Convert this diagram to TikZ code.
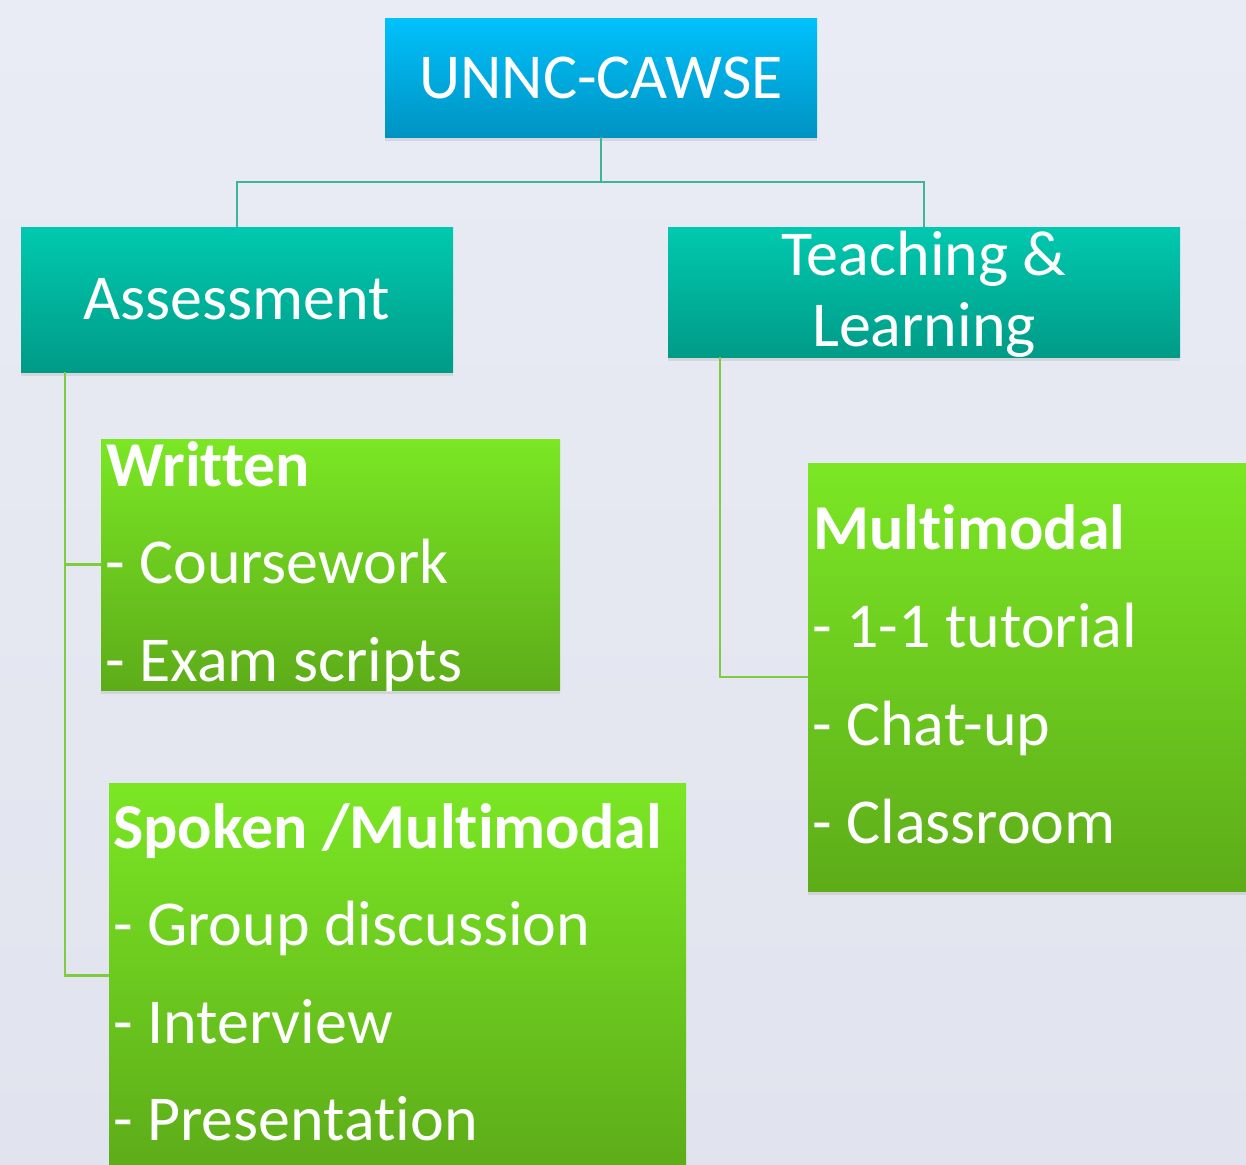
\documentclass[tikz,border=0pt]{standalone}
\usepackage{fontspec}
\setmainfont[Ligatures={NoCommon}, RawFeature={-liga;-clig}]{Carlito}
\usetikzlibrary{shadows}
\definecolor{bgtop}{HTML}{E9ECF4}
\definecolor{bgbot}{HTML}{E1E4EE}
\definecolor{bluetop}{HTML}{00C1FB}
\definecolor{bluebot}{HTML}{0093C2}
\definecolor{tealtop}{HTML}{00C9AF}
\definecolor{tealbot}{HTML}{009B87}
\definecolor{greentop}{HTML}{7BE724}
\definecolor{greenbot}{HTML}{5DAC19}
\definecolor{tline}{HTML}{3DB59C}
\definecolor{gline}{HTML}{80CC40}
\tikzset{
  boxbase/.style={rectangle, inner sep=0pt, draw=none, text=white,
    font=\fontsize{64}{71}\selectfont,
    drop shadow={shadow xshift=0pt, shadow yshift=-4pt, opacity=0.18}},
  bluebox/.style={boxbase, top color=bluetop, bottom color=bluebot},
  tealbox/.style={boxbase, top color=tealtop, bottom color=tealbot},
  greenbox/.style={boxbase, top color=greentop, bottom color=greenbot},
  wtext/.style={inner sep=0pt, text=white, font=\fontsize{64}{71}\selectfont},
  wbold/.style={wtext, font=\fontsize{64}{71}\selectfont\bfseries},
  tconn/.style={draw=tline, line width=2.4pt},
  gconn/.style={draw=gline, line width=2.2pt},
}
\begin{document}
\begin{tikzpicture}[x=1pt,y=-1pt]
\useasboundingbox (0,0) rectangle (1246,1164);
\clip (0,0) rectangle (1246,1164);
\shade[top color=bgtop, bottom color=bgbot] (0,0) rectangle (1246,1164);

% boxes
\node[bluebox, minimum width=432pt, minimum height=118pt] (root) at (601,78) {UNNC-CAWSE};
\node[tealbox, minimum width=432pt, minimum height=145pt] (assess) at (237,299.5) {Assessment};
\node[tealbox, minimum width=512pt, minimum height=130pt] (teach) at (924,292) {};
\node[greenbox, minimum width=459pt, minimum height=251pt] (written) at (330.5,564.5) {};
\node[greenbox, minimum width=577pt, minimum height=385pt] (spoken) at (397.5,975.5) {};
\node[greenbox, minimum width=444pt, minimum height=428pt] (multi) at (1030,677) {};

% connectors
\coordinate (hub) at (601,182);
\draw[tconn] (root.south) -- (hub);
\draw[tconn] (assess.north) |- (hub) -| (teach.north);
\draw[gconn] ([xshift=44pt]assess.south west) coordinate (av) |- (written.west);
\draw[gconn] (av) |- (spoken.west);
\draw[gconn] ([xshift=52pt]teach.south west) |- (multi.west);

% teaching text
\node[wtext, anchor=base] (tl1) at (924,275) {Teaching \&};
\node[wtext, anchor=base] (tl2) at (924,346) {Learning};

% written text
\node[wbold, anchor=base west] (w0) at (106,486) {Written};
\node[wtext, anchor=base west] (w1) at (105,583) {- Coursework};
\node[wtext, anchor=base west] (w2) at (105,681) {- Exam scripts};

% multimodal text
\node[wbold, anchor=base west] (m0) at (813,549) {Multimodal};
\node[wtext, anchor=base west] (m1) at (812,647) {- 1-1 tutorial};
\node[wtext, anchor=base west] (m2) at (812,745) {- Chat-up};
\node[wtext, anchor=base west] (m3) at (812,843) {- Classroom};

% spoken text
\node[wbold, anchor=base west] (s0) at (113,848) {Spoken /Multimodal};
\node[wtext, anchor=base west] (s1) at (113,945) {- Group discussion};
\node[wtext, anchor=base west] (s2) at (113,1043) {- Interview};
\node[wtext, anchor=base west] (s3) at (113,1140) {- Presentation};
\end{tikzpicture}
\end{document}
